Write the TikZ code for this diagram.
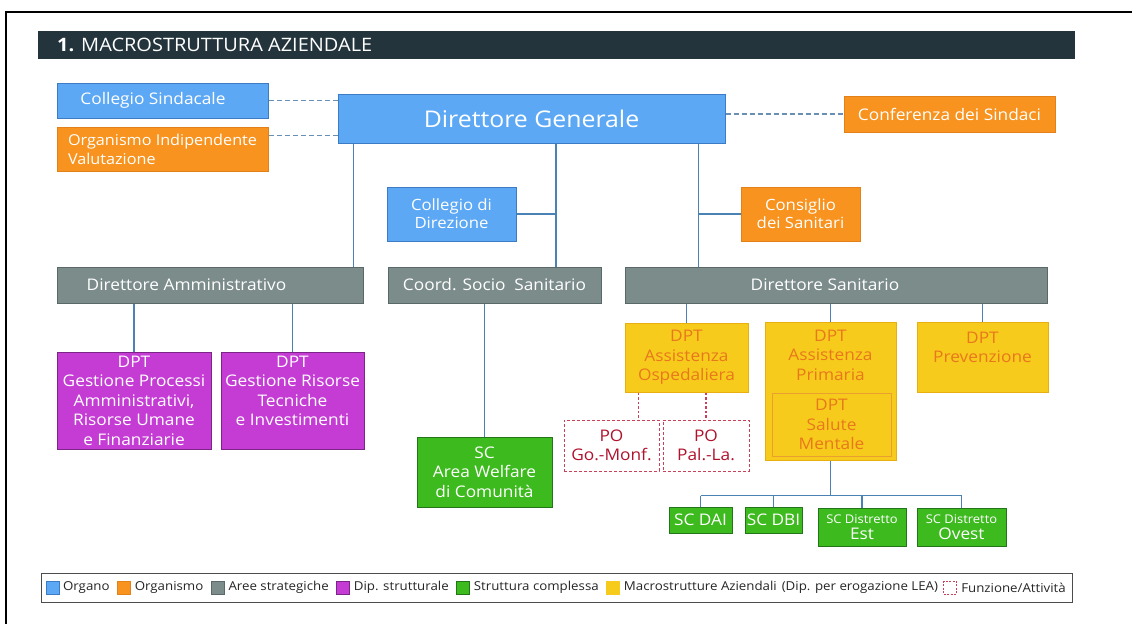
\documentclass[tikz,border=0pt]{standalone}
\usepackage{fontspec}
\setmainfont{Open Sans}[FakeStretch=1.08]
\usetikzlibrary{calc,positioning}
\definecolor{cblue}{HTML}{5CA8F4}
\definecolor{cblueD}{HTML}{3B7CC4}
\definecolor{corange}{HTML}{F7931E}
\definecolor{corangeD}{HTML}{E2801A}
\definecolor{cgray}{HTML}{7B8C8B}
\definecolor{cgrayD}{HTML}{5A6867}
\definecolor{cpurple}{HTML}{C43CD4}
\definecolor{cpurpleD}{HTML}{7C2488}
\definecolor{cgreen}{HTML}{3DBA1E}
\definecolor{cgreenD}{HTML}{23751A}
\definecolor{cyellow}{HTML}{F7CB1C}
\definecolor{cyellowD}{HTML}{E9AE10}
\definecolor{cinner}{HTML}{E9A030}
\definecolor{ctext}{HTML}{E8781C}
\definecolor{cpo}{HTML}{B0122E}
\definecolor{cpoD}{HTML}{C8405A}
\definecolor{cline}{HTML}{4A82B6}
\definecolor{cdash}{HTML}{6A8FB5}
\definecolor{ctitle}{HTML}{24343C}
\newcommand\fsz[2]{\fontsize{#1}{#2}\selectfont}
\newcommand\Bx[7]{\node[#1, minimum width={#4pt-#2pt}, minimum height={#5pt-#3pt}] (#6) at ({(#2+#4)/2},{(#3+#5)/2}) {#7};}
\tikzset{
 box/.style={draw, line width=1pt, inner sep=0pt, align=center, text=white, font=\fsz{16}{19.5}},
 organo/.style={box, fill=cblue, draw=cblueD},
 organismo/.style={box, fill=corange, draw=corangeD},
 area/.style={box, fill=cgray, draw=cgrayD},
 dip/.style={box, fill=cpurple, draw=cpurpleD},
 sc/.style={box, fill=cgreen, draw=cgreenD},
 macro/.style={box, fill=cyellow, draw=cyellowD, text=ctext},
 po/.style={box, fill=white, draw=cpoD, dash pattern=on 3pt off 2pt, text=cpo},
 conn/.style={draw=cline, line width=1.4pt},
 dconn/.style={draw=cdash, line width=1.1pt, dash pattern=on 5pt off 3pt},
 pconn/.style={draw=cpoD, line width=1.4pt, dash pattern=on 2.5pt off 2pt},
 legsq/.style={draw, line width=0.8pt, minimum width=13pt, minimum height=13pt, inner sep=0pt},
 legtx/.style={font=\fsz{12.3}{14}, text=black!85, inner sep=0pt},
}
\begin{document}
\begin{tikzpicture}[x=1pt,y=-1pt]
\useasboundingbox (0,0) rectangle (1132,624);
\draw[line width=2pt] (6,624) -- (6,12) -- (1132,12);
% title
\node[fill=ctitle, minimum width=1037pt, minimum height=28pt, inner sep=0pt] (bar) at (556.5,45) {};
\node[anchor=west, text=white, font=\fsz{18.5}{20}, inner sep=0pt] (title) at (57,45) {\textbf{1.} MACROSTRUTTURA AZIENDALE};
% top row
\Bx{organo}{57}{83}{268}{118}{cs}{Collegio Sindacale\hspace{19pt}}
\Bx{organismo, align=left, font=\fsz{15}{19}}{57}{127}{268}{171}{oiv}{Organismo Indipendente\\Valutazione}
\Bx{organo, font=\fsz{23}{26}}{338}{94}{725}{143}{dg}{Direttore Generale}
\Bx{organismo}{844}{96}{1055}{132}{conf}{Conferenza dei Sindaci}
\Bx{organo, font=\fsz{15.5}{18}}{387}{187}{516}{241}{cdir}{Collegio di\\Direzione}
\Bx{organismo, font=\fsz{15.5}{18}}{741}{187}{860}{241}{csan}{Consiglio\\dei Sanitari}
% areas
\Bx{area}{57}{267}{363}{303}{da}{Direttore Amministrativo\hspace{47pt}}
\Bx{area}{388}{267}{601}{303}{css}{Coord. Socio\hspace{0.55em}Sanitario}
\Bx{area}{625}{267}{1047}{303}{ds}{Direttore Sanitario\hspace{22pt}}
% dip strutturali
\Bx{dip}{57}{352}{211}{449}{dp1}{DPT\\Gestione Processi\\Amministrativi,\\Risorse Umane\\e Finanziarie}
\Bx{dip}{221}{352}{364}{449}{dp2}{DPT\\Gestione Risorse\\Tecniche\\e Investimenti\\\mbox{}}
% socio sanitario
\Bx{sc}{417}{437}{552}{507}{welf}{SC\\Area Welfare\\di Comunità}
% macrostrutture
\Bx{macro}{625}{323}{748}{392}{osp}{DPT\\Assistenza\\Ospedaliera}
\node[macro, minimum width=131pt, minimum height=138pt,
  label={[anchor=north, text=ctext, font=\fsz{16}{19.5}, align=center, inner sep=0pt, yshift=-8pt]north:DPT\\Assistenza\\Primaria}]
  (ap) at (830.5,391) {};
\Bx{macro, draw=cinner}{772}{393}{891}{456}{sm}{DPT\\Salute\\Mentale}
\Bx{macro}{917}{322}{1048}{392}{prev}{DPT\\Prevenzione\\\mbox{}}
% PO
\Bx{po}{564}{420}{659}{471}{po1}{PO\\Go.-Monf.}
\Bx{po}{663}{420}{749}{471}{po2}{PO\\Pal.-La.}
% distretti
\Bx{sc}{669}{507}{732}{533}{dai}{SC DAI}
\Bx{sc}{745}{507}{802}{533}{dbi}{SC DBI}
\Bx{sc, font=\fsz{16}{16.5}}{818}{508}{906}{546}{est}{{\fsz{12}{13}SC Distretto}\\Est}
\Bx{sc, font=\fsz{16}{16.5}}{917}{508}{1006}{546}{ovest}{{\fsz{12}{13}SC Distretto}\\Ovest}
% dashed links
\draw[dconn] (cs.east) -- (cs.east -| dg.west);
\draw[dconn] ([yshift=-9pt]oiv.north east) -- ([yshift=-9pt]oiv.north east -| dg.west);
\draw[dconn] (dg.east |- conf.west) -- (conf.west);
% links from DG
\coordinate (v1) at ([xshift=-10pt]da.north east);
\draw[conn] (v1 |- dg.south) -- (v1);
\coordinate (v2) at ([xshift=24.5pt]dg.south);
\draw[conn] (v2) -- (v2 |- css.north);
\draw[conn] (cdir.east) -- (cdir.east -| v2);
\coordinate (v3) at ([xshift=-27pt]dg.south east);
\draw[conn] (v3) -- (v3 |- ds.north);
\draw[conn] (csan.west) -- (csan.west -| v3);
% second level
\draw[conn] (dp1.north |- da.south) -- (dp1.north);
\draw[conn] (dp2.north |- da.south) -- (dp2.north);
\draw[conn] (welf.north |- css.south) -- (welf.north);
\draw[conn] (osp.north |- ds.south) -- (osp.north);
\draw[conn] (ap.north |- ds.south) -- (ap.north);
\draw[conn] (prev.north |- ds.south) -- (prev.north);
\coordinate (p1) at ([xshift=-48pt]osp.south);
\draw[pconn] (p1) -- (p1 |- po1.north);
\draw[pconn] (po2.north |- osp.south) -- (po2.north);
\coordinate (bus) at ([yshift=-35pt]ap.south);
\draw[conn] (ap.south) -- (bus);
\draw[conn] (bus -| dai.north) -- (bus -| ovest.north);
\foreach \n in {dai,dbi,est,ovest} \draw[conn] (bus -| \n.north) -- (\n.north);
% legend
\node[draw=black!70, line width=0.8pt, minimum width=1031pt, minimum height=29pt, inner sep=0pt] (leg) at (556.5,587.5) {};
\node[legsq, fill=cblue, draw=cblueD] (l1) at (53,587.5) {};
\node[legtx, right=3pt of l1] (t1) {Organo};
\node[legsq, fill=corange, draw=corangeD, right=7pt of t1] (l2) {};
\node[legtx, right=4pt of l2] (t2) {Organismo};
\node[legsq, fill=cgray, draw=cgrayD, right=7pt of t2] (l3) {};
\node[legtx, right=4pt of l3] (t3) {Aree strategiche};
\node[legsq, fill=cpurple, draw=cpurpleD, right=7pt of t3] (l4) {};
\node[legtx, right=4pt of l4] (t4) {Dip. strutturale};
\node[legsq, fill=cgreen, draw=cgreenD, right=7pt of t4] (l5) {};
\node[legtx, right=4pt of l5] (t5) {Struttura complessa};
\node[legsq, fill=cyellow, draw=cyellow, right=7pt of t5] (l6) {};
\node[legtx, right=4pt of l6] (t6) {Macrostrutture Aziendali\hspace{0.4em}(Dip. per erogazione LEA)};
\node[legsq, fill=white, draw=cpoD, dash pattern=on 2pt off 1.5pt, right=5pt of t6] (l7) {};
\node[legtx, right=4pt of l7] (t7) {Funzione/Attività};
\end{tikzpicture}
\end{document}
